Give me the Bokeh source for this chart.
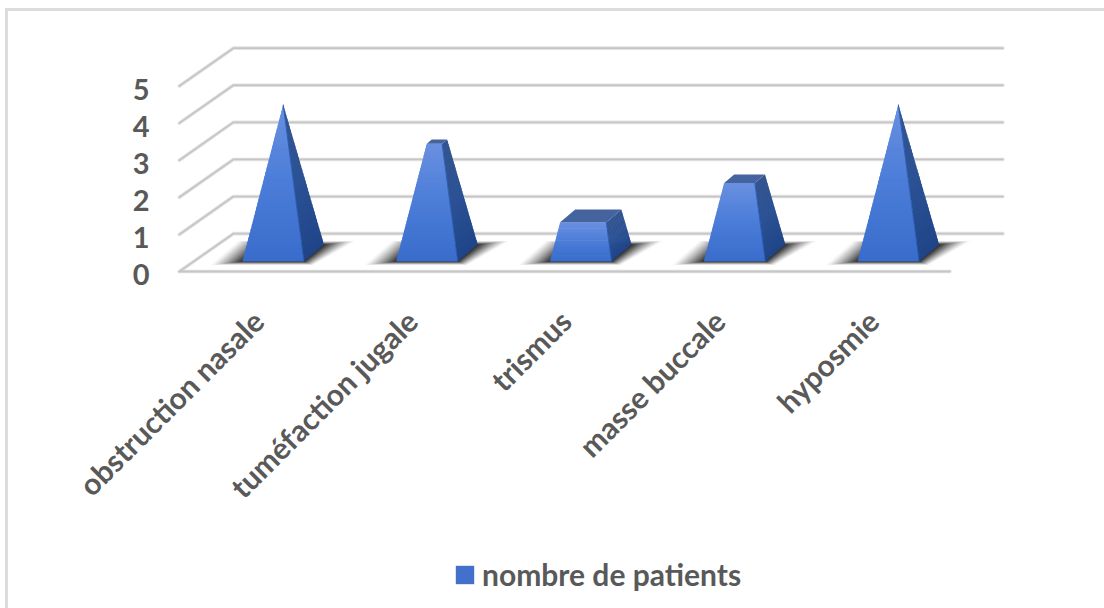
import math
from bokeh.embed import file_html
from bokeh.resources import INLINE
from bokeh.models import FixedTicker, Legend, LegendItem, Range1d
from bokeh.plotting import figure

categories = ["obstruction nasale", "tuméfaction jugale", "trismus", "masse buccale", "hyposmie"]
patients = [4, 3, 1, 2, 4]
value_ticks = [0, 1, 2, 3, 4, 5]
series_name = "nombre de patients"

TEXT = "#595959"
FONT = "Lato"
HALF_W = 0.2          # half bar width, category units
BAR_DX, BAR_DY = 0.13, 0.458   # bar depth projected on the floor
BASE_Y = 0.27         # front edge of the bars, above the floor's front edge
WALL_DX, WALL_DY = 0.351, 1.02  # wall depth projection
WALL_X0 = -0.61       # front left corner of the floor
WALL_X1 = 4.745       # right end of the back wall lines
FLOOR_X1 = 4.40       # right end of the floor's front edge
LABEL_SHIFT = -0.1    # category labels sit a little left of their bars
VALUE_LABEL_SHIFT = -0.09  # value labels sit just under the front rule ends
BANDS = 36
SHADOW_LAYERS = 24
SHADOW_OPACITY = 0.9
SHADOW_EASE = 1.25


def mix(a, b, t):
    ca = [int(a[i:i + 2], 16) for i in (1, 3, 5)]
    cb = [int(b[i:i + 2], 16) for i in (1, 3, 5)]
    return "#%02x%02x%02x" % tuple(round(x + (y - x) * t) for x, y in zip(ca, cb))


def ramp(stops, t):
    n = len(stops) - 1
    k = min(int(t * n), n - 1)
    return mix(stops[k], stops[k + 1], t * n - k)


FRONT_RAMP = ["#6a90e0", "#4a7cd8", "#3a6dcb"]
SIDE_RAMP = ["#34558f", "#2c5295", "#1f4588"]
TOP_COLOR = "#45649f"

p = figure(
    width=1099, height=600, output_backend="svg", toolbar_location=None,
    x_range=Range1d(-1.721, 5.425), y_range=Range1d(-9.164, 7.008),
    min_border=0,
    outline_line_color=None, background_fill_color="white", border_fill_color="white",
    margin=(8, 0, 0, 5),
    styles={"border-top": "3px solid #dcdcdc", "border-left": "3px solid #dcdcdc"},
)
p.grid.visible = False

# Wall and floor rules, with a pale halo under a darker core
for width, color in ((3.6, "#e4e4e4"), (1.8, "#c6c6c6")):
    for v in value_ticks:
        p.line([WALL_X0, WALL_X0 + WALL_DX, WALL_X1], [v, v + WALL_DY, v + WALL_DY],
               line_color=color, line_width=width, line_cap="round", line_join="round")
    p.line([WALL_X0, FLOOR_X1], [0, 0], line_color=color, line_width=width, line_cap="round")


def footprint(i):
    return [(i - HALF_W, BASE_Y), (i + HALF_W, BASE_Y),
            (i + HALF_W + BAR_DX, BASE_Y + BAR_DY), (i - HALF_W + BAR_DX, BASE_Y + BAR_DY)]


peak = max(patients)
shadow_reach = [(-0.21, -0.10), (0.06, -0.10), (0.21, 0.10), (-0.16, 0.10)]


def shadow_strength(k):
    return SHADOW_OPACITY * (k / SHADOW_LAYERS) ** SHADOW_EASE


for i, v in enumerate(patients):
    fp = footprint(i)
    apex = (i + BAR_DX / 2, BASE_Y + BAR_DY / 2 + peak)

    def at(corner, f):
        return (corner[0] + (apex[0] - corner[0]) * f, corner[1] + (apex[1] - corner[1]) * f)

    # Soft floor shadow: stacked outlines, faint at the rim and dense near the bar
    for k in range(SHADOW_LAYERS):
        t = 1 - k / SHADOW_LAYERS
        pts = [(c[0] + r[0] * t, c[1] + r[1] * t) for c, r in zip(fp, shadow_reach)]
        s0, s1 = shadow_strength(k), shadow_strength(k + 1)
        p.patch([q[0] for q in pts], [q[1] for q in pts], fill_color="#202020",
                fill_alpha=(s1 - s0) / (1 - s0), line_color=None)

    top = v / peak
    for a, b, stops in ((fp[1], fp[2], SIDE_RAMP), (fp[0], fp[1], FRONT_RAMP)):
        xs, ys, colors = [], [], []
        for k in range(BANDS):
            f0, f1 = top * k / BANDS, top * min(k + 1.6, BANDS) / BANDS
            quad = [at(a, f0), at(b, f0), at(b, f1), at(a, f1)]
            xs.append([q[0] for q in quad])
            ys.append([q[1] for q in quad])
            colors.append(ramp(stops, 1 - (k + 0.5) / BANDS))
        p.patches(xs, ys, fill_color=colors, line_color=None)

    if top < 1:
        quad = [at(c, top) for c in fp]
        p.patch([q[0] for q in quad], [q[1] for q in quad], fill_color=TOP_COLOR, line_color=None)

    # Separating edge between front and side faces
    e0, e1 = at(fp[1], 0), at(fp[1], top)
    p.line([e0[0], e1[0]], [e0[1], e1[1]], line_color="#2a5cb0", line_width=1)

# Legend swatch glyph, kept off the visible range
swatch = p.quad(left=[-5], right=[-4.9], bottom=[-5], top=[-4.9], fill_color="#4270ca", line_color=None)

value_label_ticks = [v + VALUE_LABEL_SHIFT for v in value_ticks]
yaxis = p.yaxis[0]
yaxis.fixed_location = -0.635
yaxis.ticker = FixedTicker(ticks=value_label_ticks)
yaxis.major_label_overrides = {t: str(v) for t, v in zip(value_label_ticks, value_ticks)}
yaxis.axis_line_color = None
yaxis.major_tick_line_color = None
yaxis.minor_tick_line_color = None
yaxis.major_label_standoff = 20
yaxis.major_label_text_font = FONT
yaxis.major_label_text_font_style = "bold"
yaxis.major_label_text_font_size = "29px"
yaxis.major_label_text_color = TEXT

label_ticks = [i + LABEL_SHIFT for i in range(len(categories))]
xaxis = p.xaxis[0]
xaxis.fixed_location = -0.108
xaxis.ticker = FixedTicker(ticks=label_ticks)
xaxis.major_label_overrides = dict(zip(label_ticks, categories))
xaxis.axis_line_color = None
xaxis.major_tick_line_color = None
xaxis.minor_tick_line_color = None
xaxis.major_label_orientation = math.pi / 4
xaxis.major_label_standoff = 34
xaxis.major_label_text_font = FONT
xaxis.major_label_text_font_style = "bold"
xaxis.major_label_text_font_size = "30px"
xaxis.major_label_text_color = TEXT

legend = Legend(
    items=[LegendItem(label=series_name, renderers=[swatch])],
    location=(445, 19), glyph_width=23, glyph_height=23, label_standoff=6,
    border_line_color=None, background_fill_alpha=0, padding=4, margin=0,
    label_text_font=FONT, label_text_font_style="bold", label_text_font_size="30px",
    label_text_color=TEXT,
)
p.add_layout(legend, "center")

open("out.html", "w").write(file_html(p, INLINE))
